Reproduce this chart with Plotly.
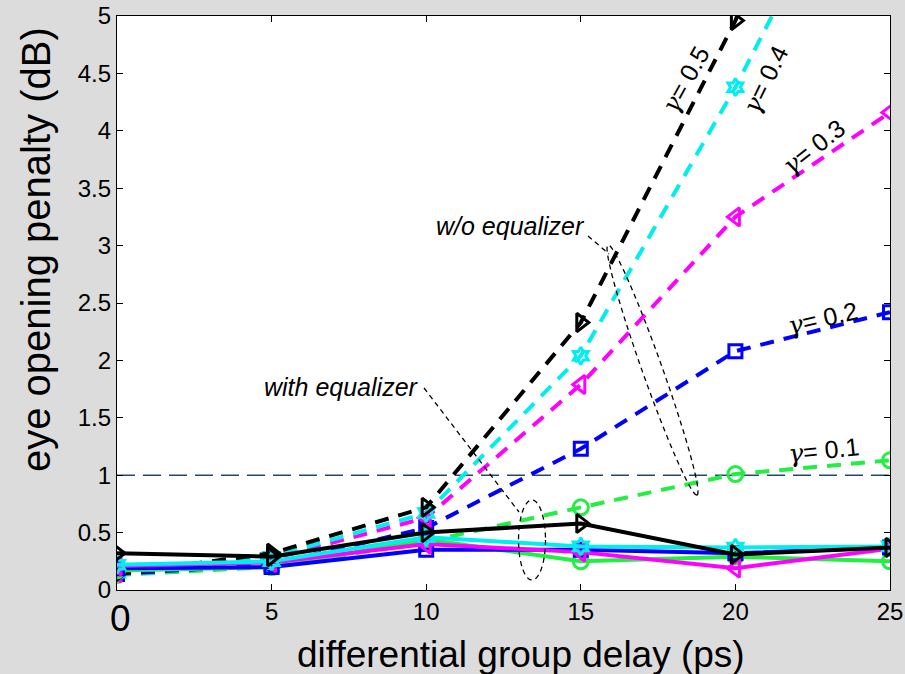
import numpy as np
import plotly.graph_objects as go

# ---------------- data ----------------
dgd = [0, 5, 10, 15, 20, 25]
gammas = ["0.1", "0.2", "0.3", "0.4", "0.5"]

# without equalizer (dashed)
wo_g01 = [0.13, 0.20, 0.42, 0.72, 1.01, 1.13]
wo_g02 = [0.14, 0.22, 0.54, 1.23, 2.08, 2.42]
wo_g03 = [0.15, 0.27, 0.63, 1.79, 3.25, 4.16]
wo_g04 = [0.15, 0.29, 0.67, 2.04, 4.38, 7.0]
wo_g05 = [0.14, 0.32, 0.72, 2.33, 4.96, 8.5]

# with equalizer (solid)
w_g01 = [0.17, 0.20, 0.44, 0.25, 0.29, 0.25]
w_g02 = [0.19, 0.20, 0.35, 0.35, 0.32, 0.37]
w_g03 = [0.21, 0.24, 0.40, 0.33, 0.19, 0.36]
w_g04 = [0.22, 0.25, 0.46, 0.38, 0.37, 0.38]
w_g05 = [0.32, 0.29, 0.50, 0.58, 0.31, 0.37]

x_ticks = [0, 5, 10, 15, 20, 25]
y_ticks = [0, 0.5, 1, 1.5, 2, 2.5, 3, 3.5, 4, 4.5, 5]
x_title = "differential group delay (ps)"
y_title = "eye opening penalty (dB)"

colors = ["#22ee44", "#0000ff", "#ff00ff", "#00eeee", "#000000"]
symbols = ["circle-open", "square-open", "triangle-left-open", "hexagram-open", "triangle-right-open"]
msizes = [15, 13, 16, 13, 16]

wo_sets = [wo_g01, wo_g02, wo_g03, wo_g04, wo_g05]
w_sets = [w_g01, w_g02, w_g03, w_g04, w_g05]

# ---------------- layout geometry ----------------
W, H = 905, 674
ML, MR, MT, MB = 117, 15, 16, 84
XR = [0, 25]
YR = [0, 5]
pw = W - ML - MR
ph = H - MT - MB


def px2d(px, py):
    return (XR[0] + (px - ML) / pw * (XR[1] - XR[0]),
            YR[0] + (H - MB - py) / ph * (YR[1] - YR[0]))


def px2paper(px, py):
    return ((px - ML) / pw, (H - MB - py) / ph)


fig = go.Figure()

for i in range(5):
    fig.add_trace(go.Scatter(
        x=dgd, y=wo_sets[i], mode="lines+markers",
        line=dict(color=colors[i], width=4, dash="14px,10px"),
        marker=dict(symbol=symbols[i], size=msizes[i], color=colors[i],
                    line=dict(color=colors[i], width=3)),
        name="w/o eq γ=" + gammas[i], showlegend=False, cliponaxis=True))

for i in range(5):
    fig.add_trace(go.Scatter(
        x=dgd, y=w_sets[i], mode="lines+markers",
        line=dict(color=colors[i], width=4),
        marker=dict(symbol=symbols[i], size=msizes[i], color=colors[i],
                    line=dict(color=colors[i], width=3)),
        name="with eq γ=" + gammas[i], showlegend=False, cliponaxis=True))

shapes = []
shapes.append(dict(type="line", xref="x", yref="y", x0=0, x1=25, y0=1, y1=1,
                   line=dict(color="#284868", width=1.5, dash="18px,8px"), layer="below"))


def ellipse_path(cx, cy, a, b, ang_deg, n=80):
    t = np.linspace(0, 2 * np.pi, n)
    ang = np.deg2rad(ang_deg)
    ex = a * np.cos(t)
    ey = b * np.sin(t)
    px = cx + ex * np.cos(ang) - ey * np.sin(ang)
    py = cy + ex * np.sin(ang) + ey * np.cos(ang)
    pts = [px2d(u, v) for u, v in zip(px, py)]
    return "M " + " L ".join(f"{u:.4f},{v:.4f}" for u, v in pts) + " Z"


thin = dict(color="black", width=1.3, dash="5px,4px")
ang_big = np.rad2deg(np.arctan2(250, 89))
shapes.append(dict(type="path", xref="x", yref="y",
                   path=ellipse_path(652.5, 370, 132.7, 10, ang_big), line=thin))
shapes.append(dict(type="path", xref="x", yref="y",
                   path=ellipse_path(532, 540, 13.5, 40, 0), line=thin))
for (p0, p1) in [((588, 236), (609, 254)), ((424, 388), (519, 512))]:
    a0 = px2d(*p0)
    a1 = px2d(*p1)
    shapes.append(dict(type="line", xref="x", yref="y", x0=a0[0], y0=a0[1],
                       x1=a1[0], y1=a1[1], line=thin))

FONT = "Liberation Sans, Arial, sans-serif"
GAMMA = '<span style="font-family:DejaVu Serif">γ</span>'
annotations = []


def add_text(px, py, text, size, angle=0, italic=False):
    x, y = px2d(px, py)
    annotations.append(dict(x=x, y=y, xref="x", yref="y", text=text, showarrow=False,
                            textangle=angle,
                            font=dict(family=FONT, size=size, color="black",
                                      style="italic" if italic else "normal")))


def add_paper_text(px, py, text, size, angle=0):
    x, y = px2paper(px, py)
    annotations.append(dict(x=x, y=y, xref="paper", yref="paper",
                            xanchor="center", yanchor="middle", text=text,
                            showarrow=False, textangle=angle,
                            font=dict(family=FONT, size=size, color="black")))


add_text(685, 80, "<i>" + GAMMA + "</i>= 0.5", 25, -61)
add_text(765, 80, "<i>" + GAMMA + "</i>= 0.4", 25, -64)
add_text(813, 147, "<i>" + GAMMA + "</i>= 0.3", 25, -38)
add_text(822, 318, "<i>" + GAMMA + "</i>= 0.2", 25, -13)
add_text(823, 450, "<i>" + GAMMA + "</i>= 0.1", 25, -6)
add_text(510, 226, "w/o equalizer", 25, 0, italic=True)
add_text(341, 387, "with equalizer", 25, 0, italic=True)

# enlarged "0" tick label on the x axis
add_paper_text(120, 618, "0", 37)

# axis titles
add_paper_text(521, 654, x_title, 37)
add_paper_text(36, 250, y_title, 40, -90)

fig.update_layout(
    width=W, height=H,
    margin=dict(l=ML, r=MR, t=MT, b=MB, autoexpand=False),
    paper_bgcolor="#dcdcdc", plot_bgcolor="white",
    font=dict(family=FONT, color="black"),
    shapes=shapes, annotations=annotations,
    showlegend=False,
)
fig.update_xaxes(range=XR, tickvals=x_ticks,
                 ticktext=["" if v == 0 else str(v) for v in x_ticks],
                 tickfont=dict(size=24), ticks="inside", ticklen=6, tickcolor="black",
                 showline=True, linecolor="black", linewidth=1.2, mirror="ticks",
                 showgrid=False, zeroline=False, automargin=False)
fig.update_yaxes(range=YR, tickvals=y_ticks,
                 ticktext=[f"{v:g}" for v in y_ticks],
                 tickfont=dict(size=24), ticks="inside", ticklen=6, tickcolor="black",
                 showline=True, linecolor="black", linewidth=1.2, mirror="ticks",
                 showgrid=False, zeroline=False, automargin=False)

fig.write_html("out.html")
